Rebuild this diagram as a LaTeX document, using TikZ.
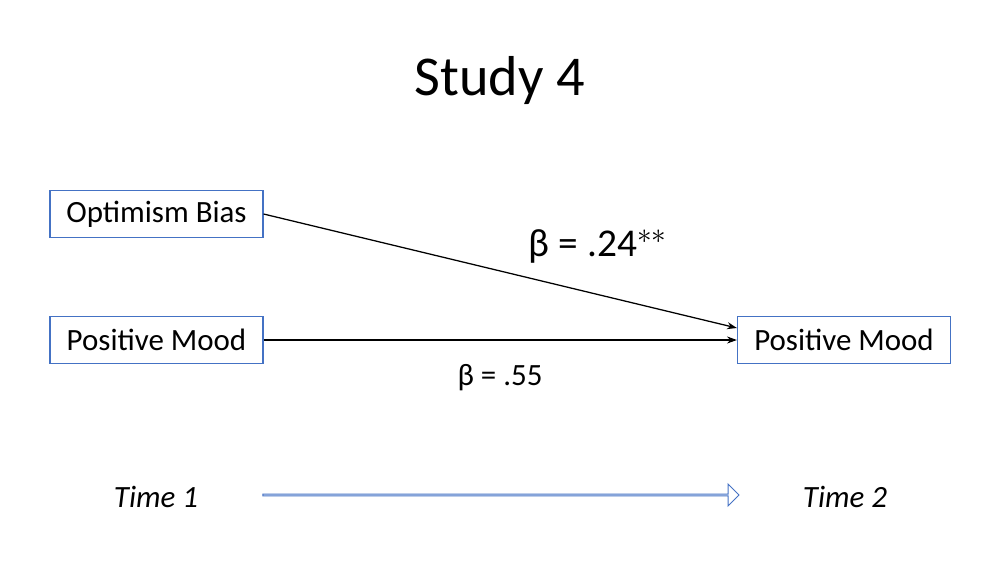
\documentclass[tikz,border=0pt]{standalone}
\usepackage{fontspec}
\setmainfont{Carlito}
\usetikzlibrary{shapes.arrows,arrows.meta}
\definecolor{bx}{RGB}{68,114,196}
\tikzset{
  varbox/.style={draw=bx,line width=0.8pt,minimum width=5.325cm,minimum height=1.17cm,inner sep=0pt,font=\fontsize{22}{26}\selectfont},
  conn/.style={line width=0.9pt,-{Stealth[length=7pt,width=5pt]}},
  lab/.style={font=\fontsize{22}{26}\selectfont}
}
\begin{document}
\begin{tikzpicture}[x=0.025cm,y=-0.025cm]
\useasboundingbox (0,0) rectangle (1000,561);
\node[font=\fontsize{40}{46}\selectfont] (title) at (500,80) {Study 4};
\node[varbox] (ob) at (156.5,214) {Optimism Bias};
\node[varbox] (pm1) at (156.5,340) {Positive Mood};
\node[varbox] (pm2) at (844,340) {Positive Mood};
\draw[conn] (ob.east) -- (pm2.west |- 0,328);
\draw[conn] (pm1.east) -- (pm2.west);
\node[font=\fontsize{28}{32}\selectfont] (b1) at (598,246) {β = .24$^{**}$};
\node[lab] (b2) at (500,378) {β = .55};
\node[lab,font=\fontsize{22}{26}\selectfont\itshape] (t1) at (156,497) {Time 1};
\node[lab,font=\fontsize{22}{26}\selectfont\itshape] (t2) at (845,497) {Time 2};
\node[single arrow,draw=bx,line width=0.7pt,minimum height=11.9cm,minimum width=0.55cm,single arrow head extend=0.14cm,inner sep=0pt,single arrow head indent=0pt] (ar) at (500.5,495) {};
\end{tikzpicture}
\end{document}
